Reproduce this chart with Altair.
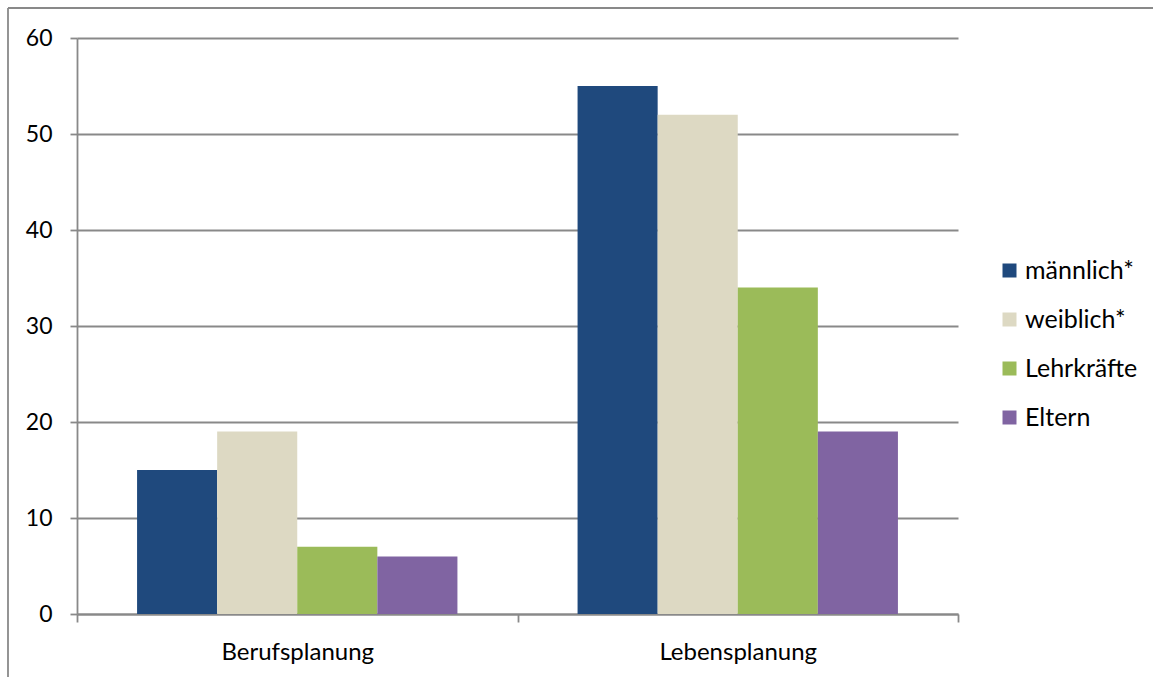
import altair as alt
import pandas as pd

# Survey answers per planning area, one bar per respondent group
categories = ["Berufsplanung", "Lebensplanung"]
groups = ["männlich*", "weiblich*", "Lehrkräfte", "Eltern"]
colors = ["#1F497D", "#DDD9C3", "#9BBB59", "#8064A2"]

maennlich = [15, 55]
weiblich = [19, 52]
lehrkraefte = [7, 34]
eltern = [6, 19]

series = [maennlich, weiblich, lehrkraefte, eltern]
rows = []
for g, vals in zip(groups, series):
    for c, v in zip(categories, vals):
        rows.append({"Bereich": c, "Gruppe": g, "Wert": v})
df = pd.DataFrame(rows)

FONT = "Lato"
GRAY = "#898989"
W, H = 881, 576
LEFT, TOP = 77, 38

bars = alt.Chart(df).mark_bar().encode(
    x=alt.X(
        "Bereich:N",
        sort=categories,
        scale=alt.Scale(paddingInner=0, paddingOuter=0),
        axis=alt.Axis(
            title=None,
            labelAngle=0,
            tickBand="extent",
            tickSize=8,
            labelPadding=18,
            labelFontSize=24,
            grid=False,
        ),
    ),
    xOffset=alt.XOffset(
        "Gruppe:N",
        sort=groups,
        scale=alt.Scale(paddingInner=0, paddingOuter=0.75),
    ),
    y=alt.Y(
        "Wert:Q",
        scale=alt.Scale(domain=[0, 60]),
        axis=alt.Axis(
            title=None,
            values=[0, 10, 20, 30, 40, 50, 60],
            grid=True,
            tickSize=7,
            labelPadding=18,
            labelFontSize=23,
        ),
    ),
    color=alt.Color(
        "Gruppe:N",
        sort=groups,
        scale=alt.Scale(domain=groups, range=colors),
        legend=alt.Legend(
            title=None,
            orient="none",
            legendX=920,
            legendY=220,
            symbolType="square",
            symbolSize=196,
            symbolStrokeWidth=0,
            labelFontSize=25,
            labelOffset=3,
            rowPadding=23,
            padding=0,
        ),
    ),
)

# Thin frame around the chart's upper-left edge
frame_top = alt.Chart(alt.Data(values=[{}])).mark_rule(color=GRAY, strokeWidth=1.8).encode(
    x=alt.value(8 - LEFT), x2=alt.value(1153 - LEFT), y=alt.value(8 - TOP)
)
frame_left = alt.Chart(alt.Data(values=[{}])).mark_rule(color=GRAY, strokeWidth=1.8).encode(
    x=alt.value(8 - LEFT), y=alt.value(8 - TOP), y2=alt.value(677 - TOP)
)

chart = (
    alt.layer(bars, frame_top, frame_left)
    .properties(
        width=W,
        height=H,
        autosize=alt.AutoSizeParams(type="none"),
        padding={"left": LEFT, "top": TOP, "right": 1153 - LEFT - W, "bottom": 677 - TOP - H},
        background="white",
    )
    .configure_view(stroke=None)
    .configure_axis(
        labelFont=FONT,
        labelColor="#000000",
        domainColor=GRAY,
        domainWidth=1.8,
        tickColor=GRAY,
        tickWidth=1.8,
        gridColor=GRAY,
        gridWidth=1.8,
    )
    .configure_legend(labelFont=FONT, labelColor="#000000")
)

chart.save("out.html", embed_options={"renderer": "svg", "actions": False})
